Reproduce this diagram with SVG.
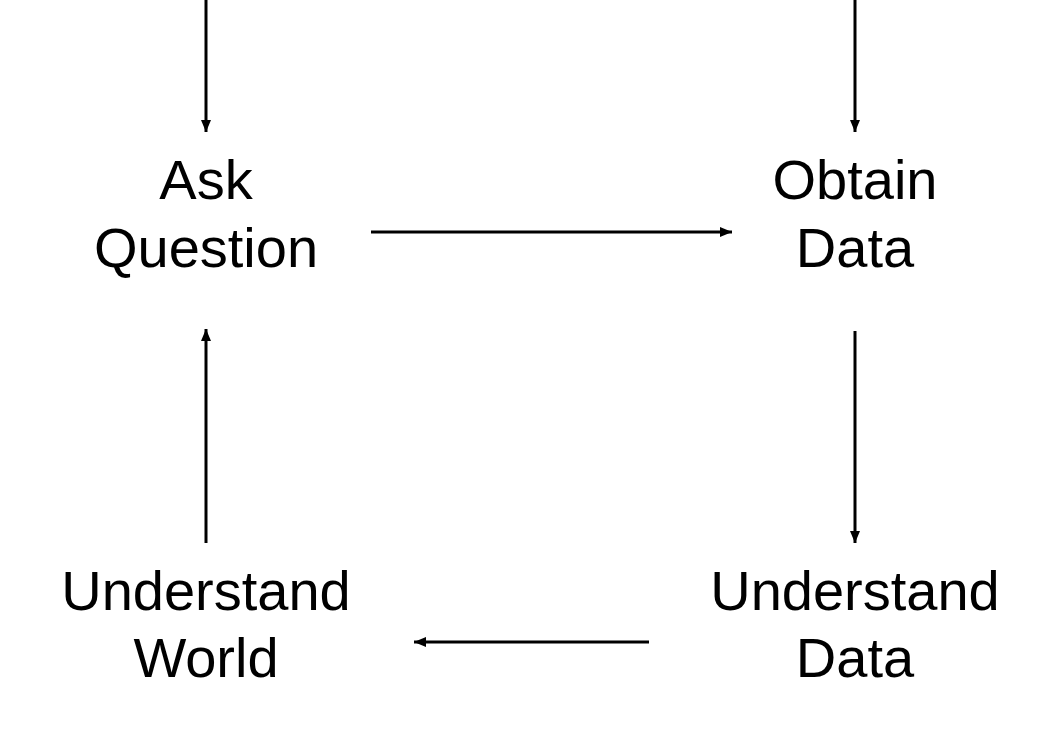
<svg xmlns="http://www.w3.org/2000/svg" width="1062" height="741" viewBox="0 0 1062 741">
<style>
.t{font-family:"Liberation Sans",Arial,Helvetica,sans-serif;font-size:56px;fill:#000;text-anchor:middle}
.c{stroke:#000;stroke-width:3;fill:none;marker-end:url(#ah)}
</style>
<defs>
<marker id="ah" viewBox="0 0 12 10" refX="12" refY="5" markerWidth="12" markerHeight="10" markerUnits="userSpaceOnUse" orient="auto">
<path d="M0,0 L12,5 L0,10 Z" fill="#000"/>
</marker>
</defs>
<rect width="1062" height="741" fill="#fff"/>
<g id="connectors">
<line class="c" x1="206" y1="0" x2="206" y2="132"/>
<line class="c" x1="855" y1="0" x2="855" y2="132"/>
<line class="c" x1="371" y1="232" x2="732" y2="232"/>
<line class="c" x1="855" y1="331" x2="855" y2="543"/>
<line class="c" x1="649" y1="642" x2="414" y2="642"/>
<line class="c" x1="206" y1="543" x2="206" y2="329"/>
</g>
<g id="ask-question"><text class="t" x="206" y="199">Ask</text><text class="t" x="206" y="267">Question</text></g>
<g id="obtain-data"><text class="t" x="855" y="199">Obtain</text><text class="t" x="855" y="267">Data</text></g>
<g id="understand-data"><text class="t" x="855" y="610">Understand</text><text class="t" x="855" y="677">Data</text></g>
<g id="understand-world"><text class="t" x="206" y="610">Understand</text><text class="t" x="206" y="677">World</text></g>
</svg>
